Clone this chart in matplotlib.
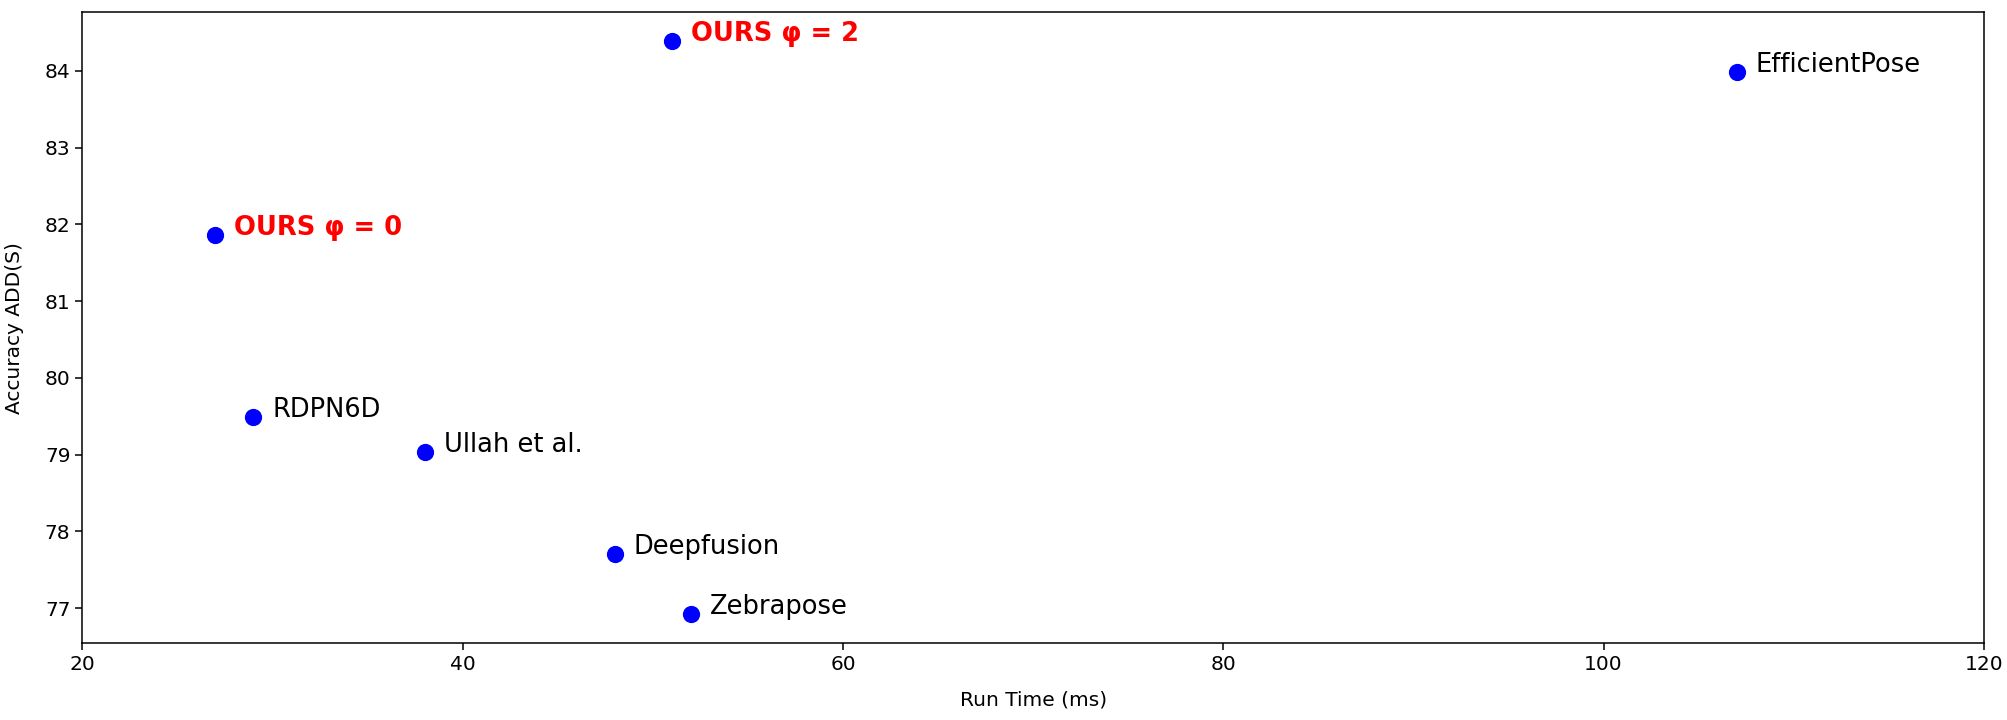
import matplotlib.pyplot as plt

methods = ['OURS φ = 0', 'OURS φ = 2', 'EfficientPose', 'RDPN6D',
           'Ullah et al.', 'Deepfusion', 'Zebrapose']
run_time = [27, 51, 107, 29, 38, 48, 52]
accuracy = [81.86, 84.39, 83.99, 79.49, 79.04, 77.70, 76.92]
ours = [True, True, False, False, False, False, False]

fig = plt.figure(figsize=(20.07, 7.2), dpi=100)
ax = fig.add_axes([0.041, 0.107, 0.9475, 0.876])

ax.scatter(run_time, accuracy, color='blue', s=130, zorder=3)

for name, x, y, is_ours in zip(methods, run_time, accuracy, ours):
    if is_ours:
        ax.text(x + 1, y, name, color='red', fontsize=18.5, fontweight='bold')
    else:
        ax.text(x + 1, y, name, color='black', fontsize=18.5)

ax.set_xlim(20, 120)
ax.set_xlabel('Run Time (ms)', fontsize=14.5, labelpad=12)
ax.set_ylabel('Accuracy ADD(S)', fontsize=14.5, labelpad=15)
ax.tick_params(labelsize=14.5, length=5, width=1.1)
for sp in ax.spines.values():
    sp.set_linewidth(1.1)

plt.savefig('out.png', dpi=100)
